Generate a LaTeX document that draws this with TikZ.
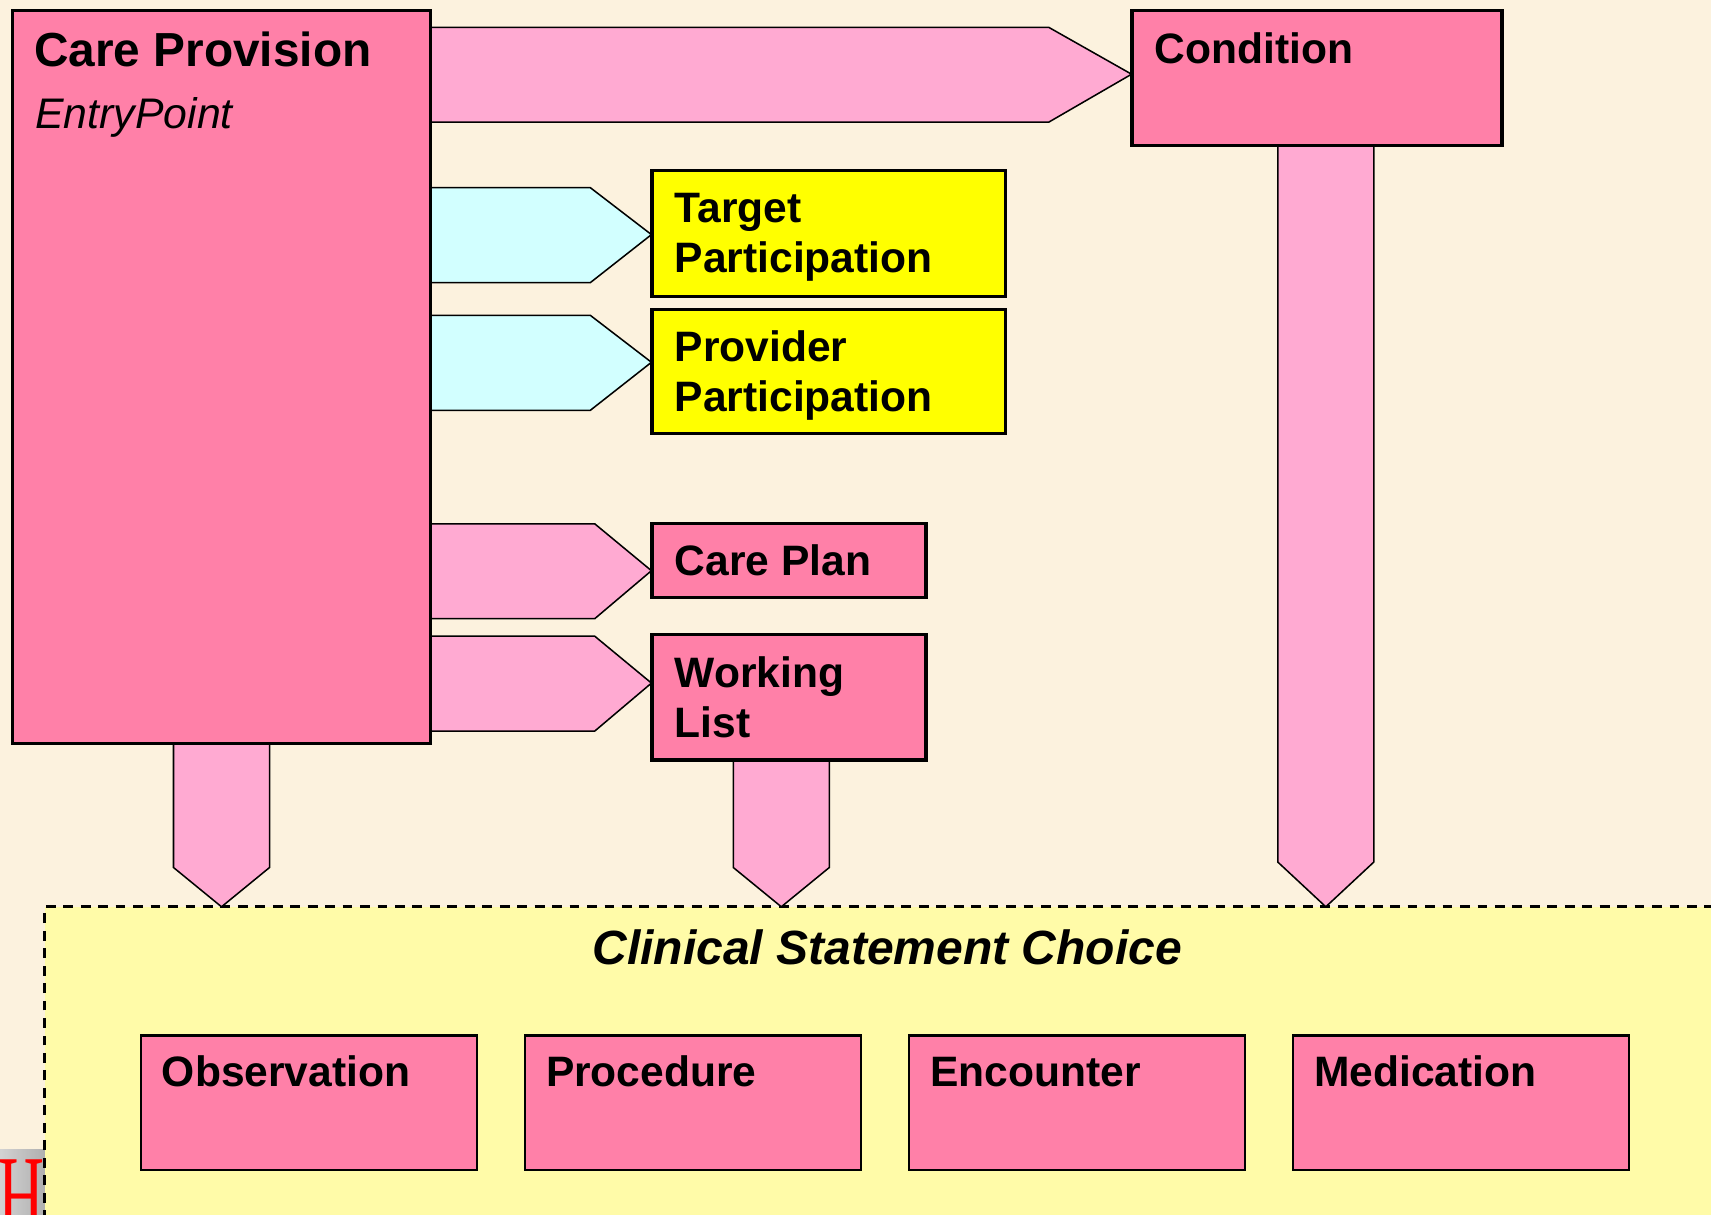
\documentclass[tikz,border=0pt]{standalone}
\usepackage{fontspec}
\setmainfont{Liberation Sans}
\newfontfamily\logofont{Liberation Serif}
\usetikzlibrary{fit,calc}
\definecolor{bgcream}{HTML}{FCF2DE}
\definecolor{boxpink}{HTML}{FF80A8}
\definecolor{arrpink}{HTML}{FFAAD2}
\definecolor{arrcyan}{HTML}{D2FFFF}
\definecolor{boxyellow}{HTML}{FFFF00}
\definecolor{choiceyellow}{HTML}{FFFBA8}
\tikzset{
  pinkbox/.style={draw=black, line width=1pt, fill=boxpink, inner sep=0pt},
  yellowbox/.style={draw=black, line width=1pt, fill=boxyellow, inner sep=0pt},
  fatpink/.style={draw=black, line width=0.7pt, fill=arrpink, line join=miter},
  fatcyan/.style={draw=black, line width=0.7pt, fill=arrcyan, line join=miter},
  lbl/.style={anchor=base west, inner sep=0pt, font=\fontsize{19.5pt}{23pt}\selectfont\bfseries},
  biglbl/.style={anchor=base west, inner sep=0pt, font=\fontsize{21.9pt}{25pt}\selectfont\bfseries},
}
\begin{document}
\begin{tikzpicture}[x=0.5pt, y=-0.5pt]
\useasboundingbox (0,0) rectangle (1568,1113);
\clip (0,0) rectangle (1568,1113);
\fill[bgcream] (0,0) rectangle (1568,1113);

% logo fragment
\begin{scope}
\clip (0,1053) rectangle (45,1113);
\shade[left color=gray!35, right color=gray!65] (0,1053) rectangle (45,1113);
\node[anchor=base west, inner sep=0pt, text=red, xscale=0.55, font=\fontsize{53pt}{53pt}\selectfont\logofont] (logo) at (-2,1132) {H};
\end{scope}

% clinical statement choice container
\fill[choiceyellow] (41,831) rectangle (1600,1150);
\draw[line width=1.2pt, dash pattern=on 4.5pt off 3.5pt] (41,1150) -- (41,831) -- (1600,831);
\node[anchor=base, inner sep=0pt, font=\fontsize{22pt}{26pt}\selectfont\bfseries\itshape] (csc) at (813,884) {Clinical Statement Choice};

% boxes
\node[pinkbox, fit={(12,10) (394,681)}] (cp) {};
\node[pinkbox, fit={(1038,10) (1376,133)}] (cond) {};
\node[yellowbox, fit={(598,157) (921,271)}] (tp) {};
\node[yellowbox, fit={(598,284) (921,397)}] (pp) {};
\node[pinkbox, fit={(598,480) (848,547)}] (plan) {};
\node[pinkbox, fit={(598,582) (848,696)}] (wl) {};
\node[pinkbox, fit={(129,949) (437,1072)}] (obs) {};
\node[pinkbox, fit={(481,949) (789,1072)}] (proc) {};
\node[pinkbox, fit={(833,949) (1141,1072)}] (enc) {};
\node[pinkbox, fit={(1185,949) (1493,1072)}] (med) {};

% fat connectors (horizontal)
\draw[fatpink] (cp.east |- 0,25) -- (961,25) -- (cond.west |- 0,68) -- (961,112) -- (cp.east |- 0,112);
\draw[fatcyan] (cp.east |- 0,172) -- (541,172) -- (tp.west |- 0,215) -- (541,259) -- (cp.east |- 0,259);
\draw[fatcyan] (cp.east |- 0,289) -- (541,289) -- (pp.west |- 0,332) -- (541,376) -- (cp.east |- 0,376);
\draw[fatpink] (cp.east |- 0,480) -- (545,480) -- (plan.west |- 0,523) -- (545,567) -- (cp.east |- 0,567);
\draw[fatpink] (cp.east |- 0,583) -- (545,583) -- (wl.west |- 0,626) -- (545,670) -- (cp.east |- 0,670);

% fat connectors (vertical)
\draw[fatpink] (159,0 |- cp.south) -- (159,795) -- (203,831) -- (247,795) -- (247,0 |- cp.south);
\draw[fatpink] (672,0 |- wl.south) -- (672,795) -- (716,831) -- (760,795) -- (760,0 |- wl.south);
\draw[fatpink] (1171,0 |- cond.south) -- (1171,790) -- (1215,831) -- (1259,790) -- (1259,0 |- cond.south);

% redraw box borders on top of connectors
\foreach \n in {cp,cond,tp,pp,plan,wl} \draw[line width=1pt] (\n.north west) rectangle (\n.south east);

% labels
\node[biglbl] (cpt) at (31,61) {Care Provision};
\node[anchor=base west, inner sep=0pt, font=\fontsize{19.6pt}{23pt}\selectfont\itshape] (cpe) at (32,118) {EntryPoint};
\node[lbl] (condt) at (1058,58) {Condition};
\node[lbl] (tpt1) at (618,204) {Target};
\node[lbl] (tpt2) at (618,250) {Participation};
\node[lbl] (ppt1) at (618,331) {Provider};
\node[lbl] (ppt2) at (618,377) {Participation};
\node[lbl] (plant) at (618,527) {Care Plan};
\node[lbl] (wlt1) at (618,630) {Working};
\node[lbl] (wlt2) at (618,676) {List};
\node[lbl] (obst) at (148,996) {Observation};
\node[lbl] (proct) at (500,996) {Procedure};
\node[lbl] (enct) at (852,996) {Encounter};
\node[lbl] (medt) at (1204,996) {Medication};
\end{tikzpicture}
\end{document}
